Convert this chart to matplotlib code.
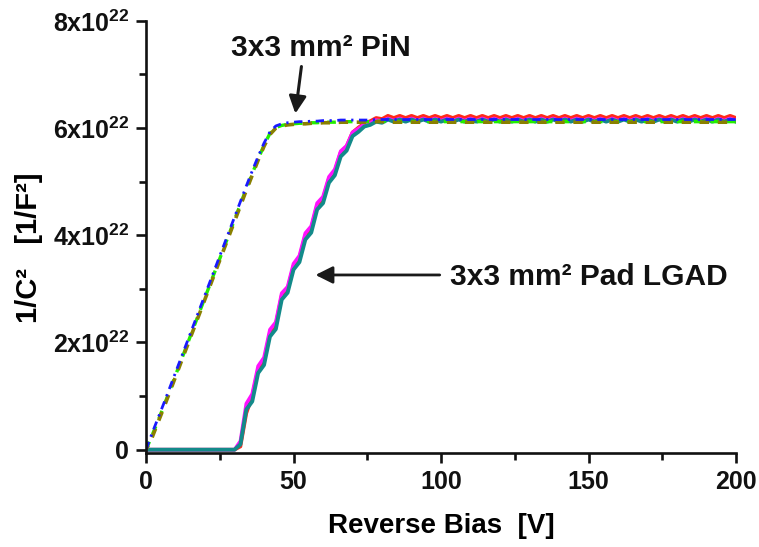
import numpy as np
import matplotlib
matplotlib.use("Agg")
import matplotlib.pyplot as plt
from matplotlib.ticker import MultipleLocator

plt.rcParams['font.family'] = ['Liberation Sans', 'DejaVu Sans']
plt.rcParams['font.weight'] = 'bold'
plt.rcParams['mathtext.fontset'] = 'custom'
plt.rcParams['mathtext.rm'] = 'Liberation Sans:bold'
plt.rcParams['mathtext.bf'] = 'Liberation Sans:bold'
plt.rcParams['mathtext.default'] = 'bf'

# reverse bias grid [V], 2 V steps from 0 to 200
bias = np.arange(0, 201, 2)

# 1/C^2 in units of 1e22 F^-2
# 3x3 mm2 Pad LGAD (three devices)
lgad_red = [0.0, 0.0, 0.0, 0.0, 0.0, 0.0, 0.0, 0.0, 0.0, 0.0, 0.0, 0.0, 0.0, 0.0, 0.0, 0.0,
            0.06, 0.68, 1.00, 1.50, 1.66, 2.18, 2.34, 2.88, 3.00, 3.43, 3.58, 4.00, 4.13, 4.56,
            4.68, 5.06, 5.20, 5.55, 5.66, 5.92, 6.01, 6.09, 6.13, 6.19, 6.17,
            6.23, 6.19, 6.23, 6.19, 6.23, 6.19, 6.23, 6.19, 6.23, 6.19, 6.23, 6.19, 6.23, 6.19,
            6.23, 6.19, 6.23, 6.19, 6.23, 6.19, 6.23, 6.19, 6.23, 6.19, 6.23, 6.19, 6.23, 6.19,
            6.23, 6.19, 6.23, 6.19, 6.23, 6.19, 6.23, 6.19, 6.23, 6.19, 6.23, 6.19, 6.23, 6.19,
            6.23, 6.19, 6.23, 6.19, 6.23, 6.19, 6.23, 6.19, 6.23, 6.19, 6.23, 6.19, 6.23, 6.19,
            6.23, 6.19, 6.23, 6.19]
lgad_magenta = [0.0, 0.0, 0.0, 0.0, 0.0, 0.0, 0.0, 0.0, 0.0, 0.0, 0.0, 0.0, 0.0, 0.0, 0.0, 0.0,
                0.16, 0.86, 1.04, 1.56, 1.72, 2.24, 2.38, 2.92, 3.04, 3.47, 3.62, 4.04, 4.17, 4.60,
                4.72, 5.09, 5.23, 5.57, 5.67, 5.92, 5.99, 6.07, 6.10, 6.15, 6.13,
                6.18, 6.14, 6.18, 6.14, 6.18, 6.14, 6.18, 6.14, 6.18, 6.14, 6.18, 6.14, 6.18, 6.14,
                6.18, 6.14, 6.18, 6.14, 6.18, 6.14, 6.18, 6.14, 6.18, 6.14, 6.18, 6.14, 6.18, 6.14,
                6.18, 6.14, 6.18, 6.14, 6.18, 6.14, 6.18, 6.14, 6.18, 6.14, 6.18, 6.14, 6.18, 6.14,
                6.18, 6.14, 6.18, 6.14, 6.18, 6.14, 6.18, 6.14, 6.18, 6.14, 6.18, 6.14, 6.18, 6.14,
                6.18, 6.14, 6.18, 6.14]
lgad_teal = [0.0, 0.0, 0.0, 0.0, 0.0, 0.0, 0.0, 0.0, 0.0, 0.0, 0.0, 0.0, 0.0, 0.0, 0.0, 0.0,
             0.10, 0.75, 0.90, 1.43, 1.58, 2.11, 2.25, 2.80, 2.93, 3.36, 3.50, 3.92, 4.05, 4.48,
             4.60, 4.98, 5.12, 5.47, 5.58, 5.85, 5.93, 6.03, 6.06, 6.12, 6.10,
             6.16, 6.12, 6.16, 6.12, 6.16, 6.12, 6.16, 6.12, 6.16, 6.12, 6.16, 6.12, 6.16, 6.12,
             6.16, 6.12, 6.16, 6.12, 6.16, 6.12, 6.16, 6.12, 6.16, 6.12, 6.16, 6.12, 6.16, 6.12,
             6.16, 6.12, 6.16, 6.12, 6.16, 6.12, 6.16, 6.12, 6.16, 6.12, 6.16, 6.12, 6.16, 6.12,
             6.16, 6.12, 6.16, 6.12, 6.16, 6.12, 6.16, 6.12, 6.16, 6.12, 6.16, 6.12, 6.16, 6.12,
             6.16, 6.12, 6.16, 6.12]

# 3x3 mm2 PiN (three devices)
pin_blue = [0.0, 0.30, 0.58, 0.86, 1.15, 1.44, 1.73, 2.02, 2.31, 2.60, 2.89, 3.18, 3.47, 3.76,
            4.05, 4.34, 4.63, 4.92, 5.20, 5.47, 5.72, 5.93, 6.04, 6.08, 6.10, 6.11, 6.12, 6.12,
            6.13, 6.13, 6.14, 6.14, 6.14, 6.15, 6.15, 6.15, 6.15, 6.15, 6.15, 6.16, 6.16,
            6.16, 6.16, 6.16, 6.16, 6.16, 6.16, 6.16, 6.16, 6.16, 6.16, 6.16, 6.16, 6.16, 6.16,
            6.16, 6.16, 6.16, 6.16, 6.16, 6.16, 6.16, 6.16, 6.16, 6.16, 6.16, 6.16, 6.16, 6.16,
            6.16, 6.16, 6.16, 6.16, 6.16, 6.16, 6.16, 6.16, 6.16, 6.16, 6.16, 6.16, 6.16, 6.16,
            6.16, 6.16, 6.16, 6.16, 6.16, 6.16, 6.16, 6.16, 6.16, 6.16, 6.16, 6.16, 6.16, 6.16,
            6.16, 6.16, 6.16, 6.16]
pin_green = [0.0, 0.26, 0.53, 0.81, 1.10, 1.39, 1.68, 1.97, 2.26, 2.55, 2.84, 3.13, 3.42, 3.71,
             4.00, 4.29, 4.58, 4.87, 5.15, 5.42, 5.68, 5.90, 6.01, 6.05, 6.07, 6.08, 6.09, 6.09,
             6.10, 6.10, 6.11, 6.11, 6.11, 6.12, 6.12, 6.12, 6.12, 6.12, 6.12, 6.13, 6.13,
             6.12, 6.12, 6.12, 6.12, 6.12, 6.12, 6.12, 6.12, 6.12, 6.12, 6.12, 6.12, 6.12, 6.12,
             6.12, 6.12, 6.12, 6.12, 6.12, 6.12, 6.12, 6.12, 6.12, 6.12, 6.12, 6.12, 6.12, 6.12,
             6.12, 6.12, 6.12, 6.12, 6.12, 6.12, 6.12, 6.12, 6.12, 6.12, 6.12, 6.12, 6.12, 6.12,
             6.12, 6.12, 6.12, 6.12, 6.12, 6.12, 6.12, 6.12, 6.12, 6.12, 6.12, 6.12, 6.12, 6.12,
             6.12, 6.12, 6.12, 6.12]
pin_olive = [0.0, 0.22, 0.50, 0.78, 1.07, 1.36, 1.65, 1.94, 2.23, 2.52, 2.81, 3.10, 3.39, 3.68,
             3.97, 4.26, 4.55, 4.84, 5.12, 5.40, 5.66, 5.88, 6.00, 6.04, 6.06, 6.07, 6.08, 6.08,
             6.09, 6.09, 6.10, 6.10, 6.10, 6.11, 6.11, 6.11, 6.11, 6.11, 6.11, 6.12, 6.12,
             6.11, 6.11, 6.11, 6.11, 6.11, 6.11, 6.11, 6.11, 6.11, 6.11, 6.11, 6.11, 6.11, 6.11,
             6.11, 6.11, 6.11, 6.11, 6.11, 6.11, 6.11, 6.11, 6.11, 6.11, 6.11, 6.11, 6.11, 6.11,
             6.11, 6.11, 6.11, 6.11, 6.11, 6.11, 6.11, 6.11, 6.11, 6.11, 6.11, 6.11, 6.11, 6.11,
             6.11, 6.11, 6.11, 6.11, 6.11, 6.11, 6.11, 6.11, 6.11, 6.11, 6.11, 6.11, 6.11, 6.11,
             6.11, 6.11, 6.11, 6.11]

y_ticks = [0, 2e22, 4e22, 6e22, 8e22]
y_ticklabels = ['0', '2x10$^{22}$', '4x10$^{22}$', '6x10$^{22}$', '8x10$^{22}$']
x_ticks = [0, 50, 100, 150, 200]

scale = 1e22

fig = plt.figure(figsize=(7.59, 5.47), dpi=100)
ax = fig.add_axes([0.1924, 0.172, 0.7773, 0.7898])

# LGAD: solid thick lines, teal on top
ax.plot(bias, np.array(lgad_red) * scale, color='#ff2a1a', lw=2.6, solid_joinstyle='round')
ax.plot(bias, np.array(lgad_magenta) * scale, color='#ff10ff', lw=2.6, solid_joinstyle='round')
ax.plot(bias, np.array(lgad_teal) * scale, color='#138a8a', lw=2.8, solid_joinstyle='round')

# PiN: dashed lines
ax.plot(bias, np.array(pin_green) * scale, color='#22ee00', lw=2.4, ls=(0, (2.6, 2.4)))
ax.plot(bias, np.array(pin_olive) * scale, color='#8a8000', lw=2.6, ls=(1.2, (2.6, 2.4)))
ax.plot(bias, np.array(pin_blue) * scale, color='#1a1aff', lw=2.0, ls=(0, (3, 2, 0.8, 2)))

ax.set_xlim(0, 200)
ax.set_ylim(-0.06e22, 8e22)
ax.set_xticks(x_ticks)
ax.set_xticklabels([str(t) for t in x_ticks])
ax.set_yticks(y_ticks)
ax.set_yticklabels(y_ticklabels)
ax.xaxis.set_minor_locator(MultipleLocator(25))
ax.yaxis.set_minor_locator(MultipleLocator(1e22))

for s in ['top', 'right']:
    ax.spines[s].set_visible(False)
for s in ['left', 'bottom']:
    ax.spines[s].set_linewidth(1.9)
    ax.spines[s].set_color('#111111')

ax.tick_params(which='major', direction='out', length=7, width=1.9, labelsize=18,
               colors='#111111', pad=5)
ax.tick_params(which='minor', direction='out', length=5, width=1.9, colors='#111111')

ax.set_xlabel('Reverse Bias  [V]', fontsize=20, fontweight='bold', labelpad=14)
ax.set_ylabel('1/C²   [1/F²]', fontsize=21, fontweight='bold')
ax.yaxis.set_label_coords(-0.175, 0.475)

# annotations
ax.annotate('', xy=(50.5, 6.22e22), xytext=(52.8, 7.2e22),
            arrowprops=dict(arrowstyle='-|>', lw=2.2, color='#1a1a1a', mutation_scale=26))
ax.text(59.3, 7.5e22, '3x3 mm² PiN', fontsize=21.5, fontweight='bold',
        ha='center', va='center', color='#111111')
ax.annotate('', xy=(56.5, 3.26e22), xytext=(100.5, 3.26e22),
            arrowprops=dict(arrowstyle='-|>', lw=2.0, color='#1a1a1a', mutation_scale=26))
ax.text(103, 3.23e22, '3x3 mm² Pad LGAD', fontsize=21.5, fontweight='bold',
        ha='left', va='center', color='#111111')

fig.savefig('out.png', dpi=100)
